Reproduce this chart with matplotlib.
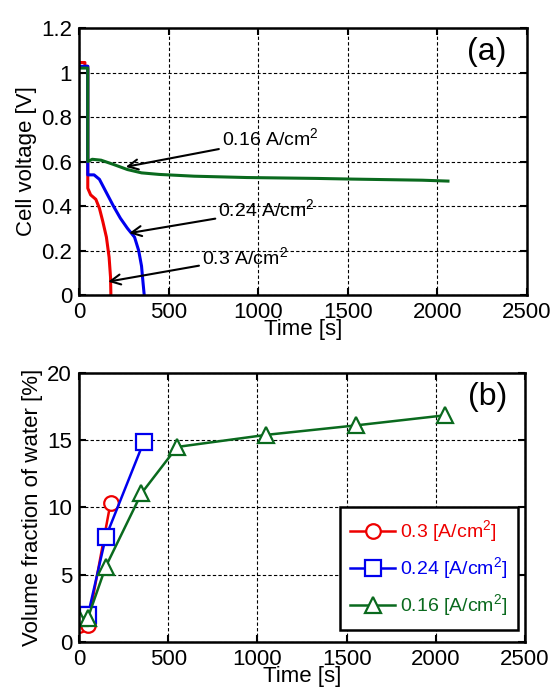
import matplotlib.pyplot as plt

plt.rcParams['font.family'] = ['Liberation Sans', 'DejaVu Sans']
plt.rcParams['mathtext.fontset'] = 'custom'
plt.rcParams['mathtext.rm'] = 'Liberation Sans'

RED, BLUE, GREEN = '#ee0000', '#0000ee', '#0a6a1e'

# (a) cell voltage traces
t_red = [0, 33, 33, 49, 49, 65, 94, 114, 133, 153, 168, 176, 178]
v_red = [1.045, 1.045, 1.028, 1.028, 0.48, 0.45, 0.43, 0.39, 0.33, 0.26, 0.17, 0.08, 0.0]
t_blue = [0, 49, 49, 84, 114, 153, 192, 231, 270, 310, 333, 349, 358, 364]
v_blue = [1.028, 1.028, 0.54, 0.54, 0.52, 0.46, 0.40, 0.345, 0.30, 0.26, 0.20, 0.13, 0.05, 0.0]
t_green = [0, 49, 49, 74, 123, 192, 270, 349, 447, 643, 937, 1328, 1524, 1916, 2059]
v_green = [1.02, 1.02, 0.60, 0.61, 0.606, 0.587, 0.564, 0.549, 0.542, 0.534, 0.528, 0.524,
           0.521, 0.516, 0.512]

# (b) volume fraction of water
t_b_red = [0, 50, 177]
w_red = [1.3, 1.3, 10.35]
t_b_blue = [0, 50, 150, 362]
w_blue = [2.0, 2.0, 7.8, 14.85]
t_b_green = [0, 50, 150, 350, 550, 1050, 1550, 2050]
w_green = [1.8, 1.8, 5.6, 11.05, 14.5, 15.4, 16.1, 16.85]
legend_labels = ['0.3 [A/cm$^2$]', '0.24 [A/cm$^2$]', '0.16 [A/cm$^2$]']

fig = plt.figure(figsize=(5.52, 6.87), dpi=100)
ax1 = fig.add_axes([0.1431, 0.5706, 0.8116, 0.3886])
ax2 = fig.add_axes([0.1431, 0.0655, 0.8080, 0.3916])

FS = 16


def style(ax):
    ax.set_xlim(0, 2500)
    ax.set_xticks([0, 500, 1000, 1500, 2000, 2500])
    ax.grid(True, ls=(0, (3, 2)), lw=0.8, color='black')
    ax.tick_params(direction='in', length=5, width=1.5, top=True, right=True,
                   labelsize=FS, pad=5)
    for s in ax.spines.values():
        s.set_linewidth(1.8)
    ax.set_xlabel('Time [s]', fontsize=FS, labelpad=-3)


ax1.plot(t_red, v_red, color=RED, lw=2.2)
ax1.plot(t_blue, v_blue, color=BLUE, lw=2.2)
ax1.plot(t_green, v_green, color=GREEN, lw=2.2)
style(ax1)
ax1.set_ylim(0, 1.2)
ax1.set_yticks([0, 0.2, 0.4, 0.6, 0.8, 1.0, 1.2])
ax1.set_yticklabels(['0', '0.2', '0.4', '0.6', '0.8', '1', '1.2'])
ax1.set_ylabel('Cell voltage [V]', fontsize=FS, labelpad=3)
ax1.text(0.955, 0.91, '(a)', transform=ax1.transAxes, fontsize=23, ha='right', va='center')

arrow = dict(arrowstyle='->', color='black', lw=1.5, mutation_scale=18, shrinkA=0, shrinkB=0)
AFS = 14
ax1.annotate('0.16 A/cm$^2$', xy=(261, 0.576), xytext=(796, 0.70), fontsize=AFS,
             va='center', arrowprops=arrow)
ax1.annotate('0.24 A/cm$^2$', xy=(280, 0.278), xytext=(776, 0.382), fontsize=AFS,
             va='center', arrowprops=arrow)
ax1.annotate('0.3 A/cm$^2$', xy=(163, 0.06), xytext=(685, 0.168), fontsize=AFS,
             va='center', arrowprops=arrow)

mk = dict(mfc='white', mew=1.6, lw=1.8)
ax2.plot(t_b_red, w_red, color=RED, marker='o', ms=10.5, label=legend_labels[0], **mk)
ax2.plot(t_b_blue, w_blue, color=BLUE, marker='s', ms=11, label=legend_labels[1], **mk)
ax2.plot(t_b_green, w_green, color=GREEN, marker='^', ms=12, label=legend_labels[2], **mk)
style(ax2)
ax2.set_ylim(0, 20)
ax2.set_yticks([0, 5, 10, 15, 20])
ax2.set_ylabel('Volume fraction of water [%]', fontsize=FS, labelpad=3)
ax2.text(0.96, 0.91, '(b)', transform=ax2.transAxes, fontsize=23, ha='right', va='center')

leg = ax2.legend(loc='lower right', bbox_to_anchor=(0.985, 0.045), fontsize=14,
                 fancybox=False, framealpha=1, edgecolor='black', handlelength=2.3,
                 handletextpad=0.25, borderpad=0.55, labelspacing=0.55,
                 borderaxespad=0)
leg.get_frame().set_linewidth(1.8)
for txt, c in zip(leg.get_texts(), [RED, BLUE, GREEN]):
    txt.set_color(c)

fig.savefig('out.png', dpi=100)
